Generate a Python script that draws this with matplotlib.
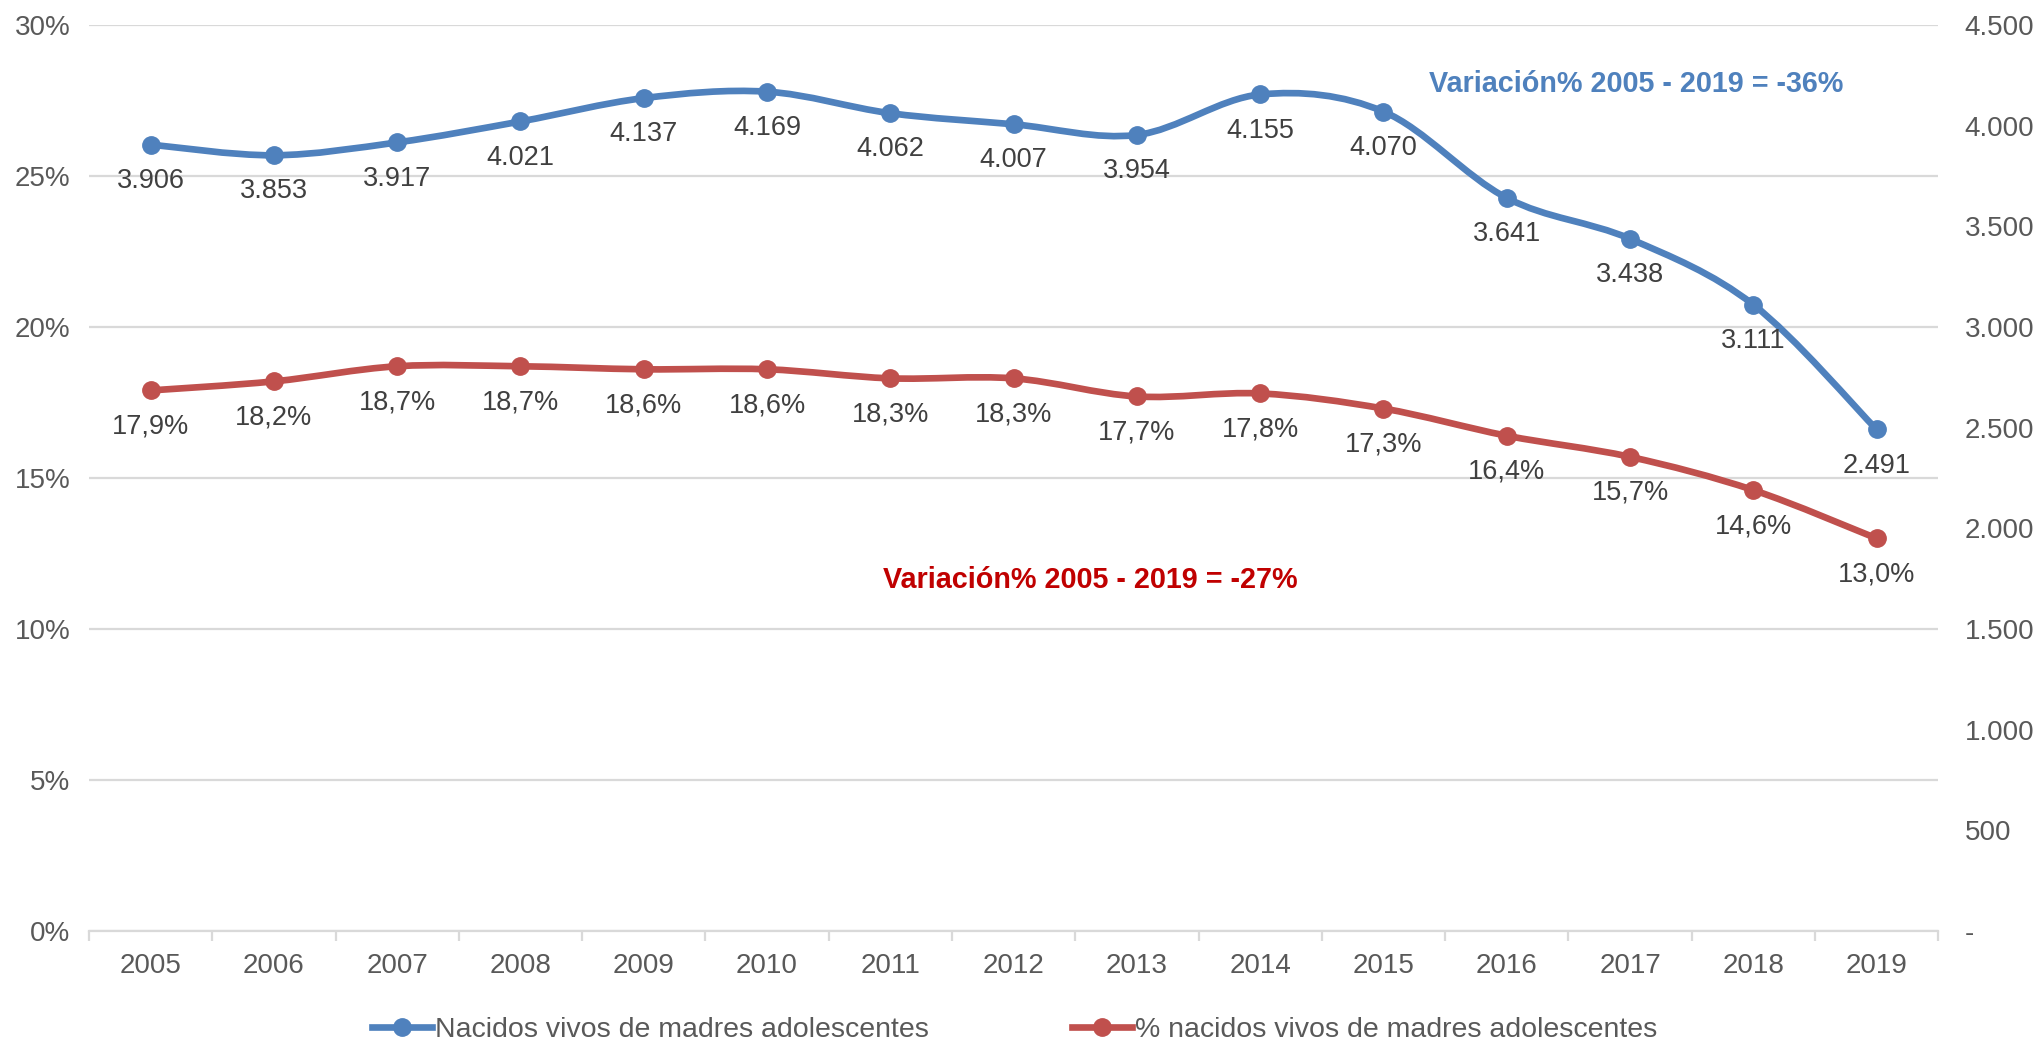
import matplotlib
matplotlib.use("Agg")
import matplotlib.pyplot as plt
from matplotlib.path import Path
from matplotlib.patches import PathPatch
from matplotlib.lines import Line2D
from matplotlib.ticker import FuncFormatter, MultipleLocator

plt.rcParams['font.family'] = ['Liberation Sans', 'DejaVu Sans']

years = ["2005", "2006", "2007", "2008", "2009", "2010", "2011", "2012",
         "2013", "2014", "2015", "2016", "2017", "2018", "2019"]
nacidos = [3906, 3853, 3917, 4021, 4137, 4169, 4062, 4007, 3954, 4155,
           4070, 3641, 3438, 3111, 2491]
pct_nacidos = [17.9, 18.2, 18.7, 18.7, 18.6, 18.6, 18.3, 18.3, 17.7, 17.8,
               17.3, 16.4, 15.7, 14.6, 13.0]
pct_labels = ["17,9%", "18,2%", "18,7%", "18,7%", "18,6%", "18,6%", "18,3%", "18,3%",
              "17,7%", "17,8%", "17,3%", "16,4%", "15,7%", "14,6%", "13,0%"]
nac_labels = ["3.906", "3.853", "3.917", "4.021", "4.137", "4.169", "4.062", "4.007",
              "3.954", "4.155", "4.070", "3.641", "3.438", "3.111", "2.491"]

blue = "#4F81BD"
red = "#C0504D"
grid_c = "#D9D9D9"
tick_c = "#595959"
lab_c = "#404040"


def smooth_path(x, y):
    # bezier curve like excel's "smoothed line"
    verts = [(x[0], y[0])]
    codes = [Path.MOVETO]
    n = len(x)
    for i in range(n - 1):
        xp, yp = (x[i - 1], y[i - 1]) if i > 0 else (x[i], y[i])
        xn, yn = (x[i + 2], y[i + 2]) if i + 2 < n else (x[i + 1], y[i + 1])
        c1 = (x[i] + (x[i + 1] - xp) / 6, y[i] + (y[i + 1] - yp) / 6)
        c2 = (x[i + 1] - (xn - x[i]) / 6, y[i + 1] - (yn - y[i]) / 6)
        verts += [c1, c2, (x[i + 1], y[i + 1])]
        codes += [Path.CURVE4] * 3
    return Path(verts, codes)


xs = list(range(len(years)))

fig = plt.figure(figsize=(20.36, 10.43), dpi=100)
ax = fig.add_axes([0.0437, 0.1074, 0.9083, 0.8686])
ax2 = ax.twinx()

ax.set_xlim(-0.5, len(years) - 0.5)
ax.set_ylim(0, 30)
ax2.set_ylim(0, 4500)

ax.yaxis.set_major_locator(MultipleLocator(5))
ax.yaxis.set_major_formatter(FuncFormatter(lambda v, p: f"{int(round(v))}%"))
ax2.yaxis.set_major_locator(MultipleLocator(500))
ax2.yaxis.set_major_formatter(FuncFormatter(
    lambda v, p: "-" if v == 0 else f"{int(v):,}".replace(",", ".")))

ax.grid(axis='y', color=grid_c, lw=1.6)
ax.set_axisbelow(True)
for s in ["top", "left", "right"]:
    ax.spines[s].set_visible(False)
    ax2.spines[s].set_visible(False)
ax2.spines["bottom"].set_visible(False)
ax.spines["bottom"].set_color(grid_c)
ax.spines["bottom"].set_linewidth(1.6)

ax.set_xticks(xs)
ax.set_xticklabels(years)
ax.set_xticks([i - 0.5 for i in range(len(years) + 1)], minor=True)
ax.tick_params(axis='x', which='major', length=0, pad=16, labelsize=20, labelcolor=tick_c)
ax.tick_params(axis='x', which='minor', length=7, width=1.6, color=grid_c)
ax.tick_params(axis='y', length=0, pad=13.5, labelsize=20, labelcolor=tick_c)
ax2.tick_params(axis='y', length=0, pad=19, labelsize=20, labelcolor=tick_c)

# red series (left axis)
ax.add_patch(PathPatch(smooth_path(xs, pct_nacidos), fill=False, edgecolor=red,
                       lw=4.8, capstyle='round', joinstyle='round', zorder=3))
ax.plot(xs, pct_nacidos, 'o', color=red, ms=12.5, zorder=4)
for x, y, t in zip(xs, pct_nacidos, pct_labels):
    ax.annotate(t, (x, y), xytext=(0, -26), textcoords='offset points',
                ha='center', va='center', fontsize=19.5, color=lab_c)

# blue series (right axis)
ax2.add_patch(PathPatch(smooth_path(xs, nacidos), fill=False, edgecolor=blue,
                        lw=4.8, capstyle='round', joinstyle='round', zorder=3))
ax2.plot(xs, nacidos, 'o', color=blue, ms=12.5, zorder=4)
for x, y, t in zip(xs, nacidos, nac_labels):
    ax2.annotate(t, (x, y), xytext=(0, -26), textcoords='offset points',
                 ha='center', va='center', fontsize=19.5, color=lab_c)

ax.text(12.05, 28.05, "Variación% 2005 - 2019 = -36%", color=blue, fontsize=20.7,
        fontweight='bold', ha='center', va='center')
ax.text(7.62, 11.62, "Variación% 2005 - 2019 = -27%", color="#C00000", fontsize=20.7,
        fontweight='bold', ha='center', va='center')

handles = [Line2D([], [], color=blue, lw=4.8, marker='o', ms=12.5),
           Line2D([], [], color=red, lw=4.8, marker='o', ms=12.5)]
fig.legend(handles, ["Nacidos vivos de madres adolescentes",
                     "% nacidos vivos de madres adolescentes"],
           loc='center', bbox_to_anchor=(0.4984, 0.0125), ncol=2, frameon=False,
           fontsize=20.5, labelcolor=tick_c, handlelength=2.1, handletextpad=0.12,
           columnspacing=5.0)

fig.savefig("out.png", dpi=100)
